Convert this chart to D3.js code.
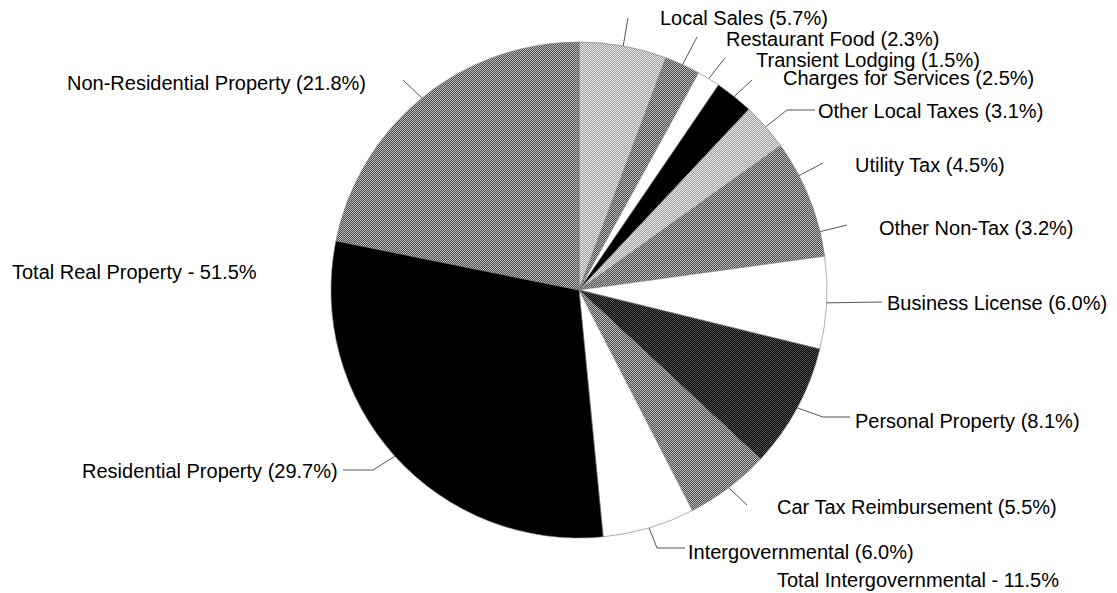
<!DOCTYPE html>
<html>
<head>
<meta charset="utf-8">
<script src="https://cdn.jsdelivr.net/npm/d3@7"></script>
<style>
  html, body { margin: 0; padding: 0; background: #fff; }
  svg { display: block; }
  text { font-family: "Liberation Sans", Arial, Helvetica, sans-serif; font-size: 20px; fill: #000; }
</style>
</head>
<body>
<div id="main"></div>
<script>
// revenue sources, clockwise from 12 o'clock
const categories = [
    'Local Sales', 'Restaurant Food', 'Transient Lodging', 'Charges for Services',
    'Other Local Taxes', 'Utility Tax', 'Other Non-Tax', 'Business License',
    'Personal Property', 'Car Tax Reimbursement', 'Intergovernmental',
    'Residential Property', 'Non-Residential Property'
];
const shares = [5.7, 2.3, 1.5, 2.5, 3.1, 4.5, 3.2, 6.0, 8.1, 5.5, 6.0, 29.7, 21.8];
const groupNames = ['Total Real Property', 'Total Intergovernmental'];
const groupTotals = [51.5, 11.5];

// fill per slice
const fills = ['light', 'med', 'white', 'black', 'light', 'med', 'med', 'white', 'dark', 'med', 'white', 'black', 'med'];

// label placement: text x / y (centre), leader elbow (optional) and end
const labelLayout = [
    {x: 660, y: 18, end: [628, 18]},
    {x: 726, y: 39, end: [697, 37]},
    {x: 756, y: 60, end: [725, 58]},
    {x: 783, y: 78, end: [752, 80]},
    {x: 818, y: 111, elbow: [787, 110], end: [815, 110]},
    {x: 855, y: 165, end: [823, 163]},
    {x: 879, y: 228, end: [847, 225]},
    {x: 887, y: 303, end: [882, 302]},
    {x: 855, y: 421, elbow: [823, 417], end: [850, 417]},
    {x: 777, y: 507, end: [747, 505]},
    {x: 688, y: 552, elbow: [657, 548], end: [685, 548]},
    {x: 82, y: 471, elbow: [373, 470], end: [343, 470]},
    {x: 67, y: 83, end: [403, 80]}
];
const groupLayout = [{x: 12, y: 272}, {x: 777, y: 580}];

const WIDTH = 1117, HEIGHT = 593;
const CX = 579, CY = 290, R = 248;

const svg = d3.select('#main').append('svg').attr('width', WIDTH).attr('height', HEIGHT);

// dithered fills, 2x2 tiles
const defs = svg.append('defs');
const dither = (id, a, b) => {
    const p = defs.append('pattern').attr('id', id).attr('patternUnits', 'userSpaceOnUse')
        .attr('width', 2).attr('height', 2);
    p.append('rect').attr('width', 2).attr('height', 2).attr('fill', b);
    p.append('rect').attr('width', 1).attr('height', 1).attr('fill', a);
    p.append('rect').attr('x', 1).attr('y', 1).attr('width', 1).attr('height', 1).attr('fill', a);
};
dither('light', '#9a9a9a', '#ececec');
dither('med', '#4a4a4a', '#bdbdbd');
dither('dark', '#000000', '#555555');
const fillOf = (f) => (f === 'white' ? '#fff' : f === 'black' ? '#000' : `url(#${f})`);

const data = categories.map((name, i) => ({name, value: shares[i], fill: fills[i], layout: labelLayout[i]}));
const pie = d3.pie().sort(null).value((d) => d.value);
const arc = d3.arc().innerRadius(0).outerRadius(R);
const arcs = pie(data);

const g = svg.append('g').attr('transform', `translate(${CX},${CY})`);
g.selectAll('path.slice').data(arcs).enter().append('path')
    .attr('class', 'slice')
    .attr('d', arc)
    .attr('fill', (d) => fillOf(d.data.fill))
    .attr('stroke', '#777')
    .attr('stroke-width', 0.6);

// leader lines from the arc mid-point
const leaders = svg.append('g').attr('fill', 'none').attr('stroke', '#555').attr('stroke-width', 1);
arcs.forEach((a) => {
    const mid = (a.startAngle + a.endAngle) / 2;
    const start = [CX + R * Math.sin(mid), CY - R * Math.cos(mid)];
    const L = a.data.layout;
    const pts = [start];
    if (L.elbow) pts.push(L.elbow);
    pts.push(L.end);
    leaders.append('path').attr('d', d3.line()(pts));
});

svg.append('g').selectAll('text.lbl').data(arcs).enter().append('text')
    .attr('class', 'lbl')
    .attr('x', (d) => d.data.layout.x)
    .attr('y', (d) => d.data.layout.y)
    .attr('dy', '0.35em')
    .text((d) => `${d.data.name} (${d.data.value.toFixed(1)}%)`);

svg.append('g').selectAll('text.grp').data(groupNames).enter().append('text')
    .attr('class', 'grp')
    .attr('x', (d, i) => groupLayout[i].x)
    .attr('y', (d, i) => groupLayout[i].y)
    .attr('dy', '0.35em')
    .text((d, i) => `${d} - ${groupTotals[i].toFixed(1)}%`);
</script>
</body>
</html>
